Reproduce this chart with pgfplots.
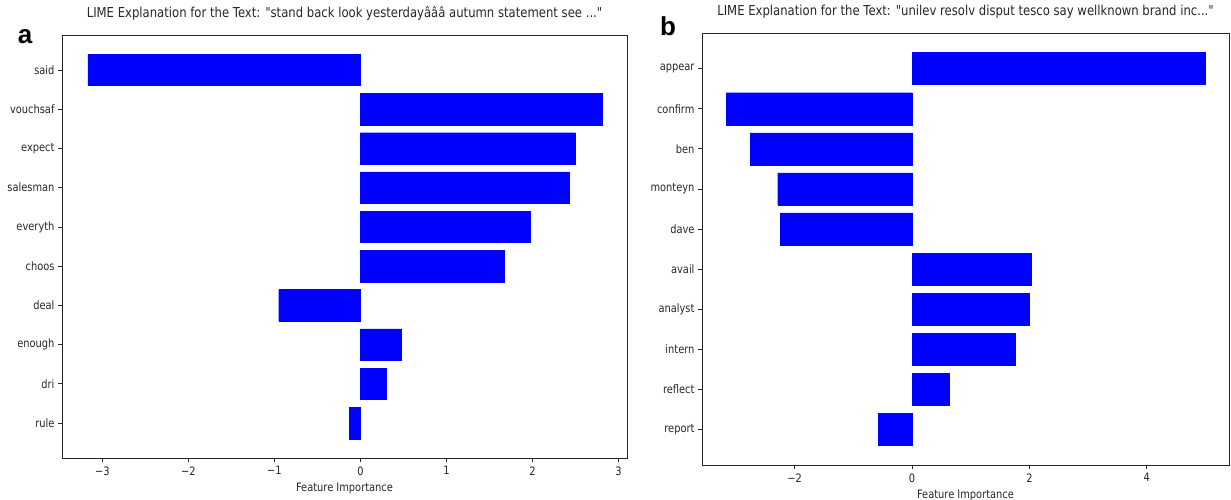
\documentclass[border=0pt]{standalone}
\usepackage{fontspec}
\setmainfont{DejaVu Sans}[FakeStretch=0.85, Ligatures=TeXOff]
\newfontfamily\labelfont{Liberation Sans}
\usepackage{pgfplots}
\pgfplotsset{compat=1.18}
\definecolor{barblue}{RGB}{0,0,255}
\pgfplotsset{
  limeaxis/.style={
    scale only axis,
    anchor=south west,
    xbar, bar width=0.8,
    y dir=reverse,
    ymin=-0.89, ymax=9.89,
    ytick={0,...,9},
    tick align=outside,
    xtick pos=bottom, ytick pos=left,
    major tick length=4pt,
    axis line style={black!85, line width=0.7pt},
    tick style={black!85, line width=0.7pt},
    tick label style={font=\fontsize{11.6}{13}\selectfont, text=black!85},
    xticklabel style={yshift=-1pt},
    label style={font=\fontsize{11.6}{13}\selectfont, text=black!85},
    title style={font=\fontsize{13.7}{16}\selectfont, text=black!85, at={(0.5,1)}, anchor=south, yshift=5pt},
    xlabel style={at={(0.5,0)}, anchor=north, yshift=-22pt},
    axis background/.style={fill=white},
  }
}
\begin{document}
\begin{tikzpicture}[x=1pt,y=1pt]
\path[use as bounding box] (0,0) rectangle (1231,500);
% Panel a
\begin{axis}[limeaxis,
  at={(62pt,42pt)}, width=565pt, height=423pt,
  xmin=-3.47, xmax=3.10,
  xtick={-3,-2,-1,0,1,2,3},
  xticklabels={−3,−2,−1,0,1,2,3},
  yticklabels={said,vouchsaf,expect,salesman,everyth,choos,deal,enough,dri,rule},
  title={LIME Explanation for the Text: "stand back look yesterdayâââ autumn statement see ..."},
  xlabel={Feature Importance},
]
\addplot[fill=barblue, draw=barblue] coordinates {
(-3.17,0) (2.81,1) (2.50,2) (2.43,3) (1.98,4) (1.67,5) (-0.95,6) (0.48,7) (0.30,8) (-0.13,9)};
\node[anchor=north east, font=\fontsize{11.6}{13}\selectfont, text=black!85, inner sep=0pt] at (rel axis cs:1,0) [yshift=-23pt] {1e−5};
\end{axis}
% Panel b
\begin{axis}[limeaxis,
  at={(702pt,35pt)}, width=527pt, height=432pt,
  xmin=-3.58, xmax=5.40,
  xtick={-2,0,2,4},
  xticklabels={−2,0,2,4},
  yticklabels={appear,confirm,ben,monteyn,dave,avail,analyst,intern,reflect,report},
  title={LIME Explanation for the Text: "unilev resolv disput tesco say wellknown brand inc..."},
  xlabel={Feature Importance},
]
\addplot[fill=barblue, draw=barblue] coordinates {
(5.00,0) (-3.17,1) (-2.76,2) (-2.29,3) (-2.24,4) (2.03,5) (2.00,6) (1.76,7) (0.64,8) (-0.58,9)};
\node[anchor=north east, font=\fontsize{11.6}{13}\selectfont, text=black!85, inner sep=0pt] at (rel axis cs:1,0) [yshift=-23pt] {1e−5};
\end{axis}
\node[font=\labelfont\bfseries\fontsize{26}{28}\selectfont, anchor=base] at (25,456) {a};
\node[font=\labelfont\bfseries\fontsize{26}{28}\selectfont, anchor=base] at (668,464) {b};
\end{tikzpicture}
\end{document}
